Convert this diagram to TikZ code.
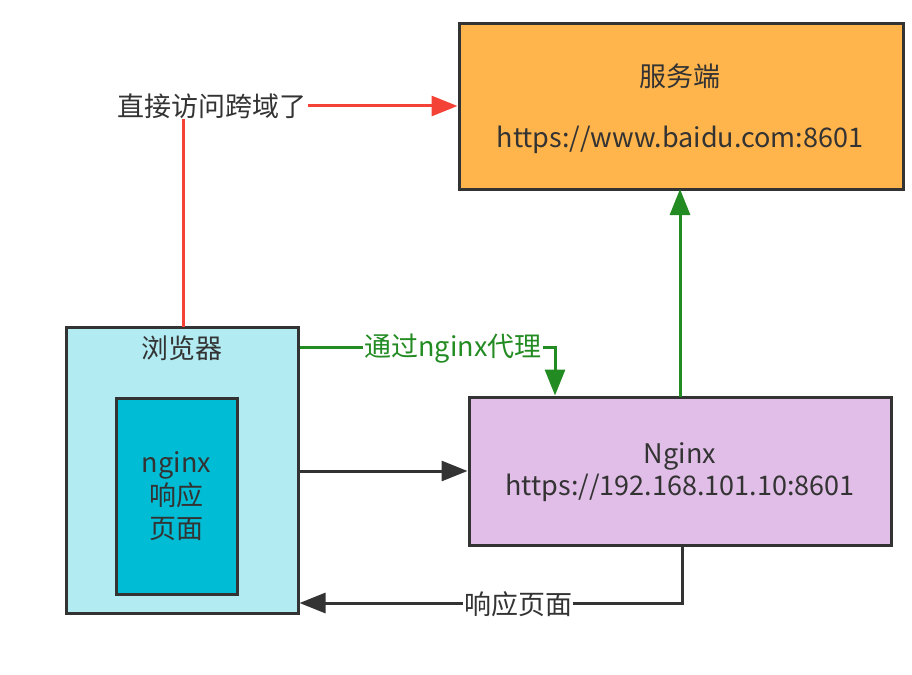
\documentclass[tikz,border=0pt]{standalone}
\usepackage{fontspec}
\setmainfont{Noto Sans CJK SC}
\usetikzlibrary{arrows.meta}
\definecolor{srvfill}{HTML}{FFB54C}
\definecolor{brfill}{HTML}{B2EBF2}
\definecolor{pgfill}{HTML}{00BCD4}
\definecolor{ngfill}{HTML}{E1BEE7}
\definecolor{edge}{HTML}{333333}
\definecolor{redl}{HTML}{F44336}
\definecolor{greenl}{HTML}{228B22}
\tikzset{
  box/.style={draw=edge, line width=3pt, rectangle, inner sep=0pt},
  lbl/.style={text=edge, font=\fontsize{27}{31}\selectfont, inner sep=1pt},
  conn/.style={line width=3pt},
}
\begin{document}
\begin{tikzpicture}[x=1pt,y=-1pt]
\useasboundingbox (0,0) rectangle (912,674);
% boxes
\node[box, fill=srvfill, minimum width=444pt, minimum height=165pt] (srv) at (681,106.5) {};
\node[lbl] (srvt) at (680,76) {服务端};
\node[lbl] (srvu) at (680,140) {https://www.baidu.com:8601};
\node[box, fill=brfill, minimum width=232pt, minimum height=286pt] (br) at (182,470) {};
\node[lbl] (brt) at (182,348) {浏览器};
\node[box, fill=pgfill, minimum width=121pt, minimum height=196pt, lbl, align=center, font=\fontsize{27}{33}\selectfont] (pg) at (176.5,496) {nginx\\响应\\页面};
\node[box, fill=ngfill, minimum width=422pt, minimum height=148pt] (ng) at (680,471) {};
\node[lbl, align=center, font=\fontsize{27}{32}\selectfont] (ngt) at (680,472) {Nginx\\https://192.168.101.10:8601};
% connectors
\coordinate (rc) at (183,106);
\draw[conn, draw=redl, -{Triangle[length=26pt,width=20pt,fill=redl]}] (183,327) -- (rc) -- (srv.west |- rc);
\node[lbl, fill=white] (rl) at (212,106) {直接访问跨域了};
\coordinate (gc) at (555,347);
\draw[conn, draw=greenl, -{Triangle[length=26pt,width=20pt,fill=greenl]}] (br.east |- gc) -- (gc) -- (gc |- ng.north);
\node[lbl, fill=white, text=greenl] (gl) at (453,349) {通过nginx代理};
\draw[conn, draw=greenl, -{Triangle[length=26pt,width=20pt,fill=greenl]}] (680,397) -- (680,189);
\draw[conn, draw=edge, -{Triangle[length=26pt,width=20pt,fill=edge]}] (br.east |- 0,471) -- (ng.west |- 0,471);
\coordinate (bc) at (682,603);
\draw[conn, draw=edge, -{Triangle[length=26pt,width=20pt,fill=edge]}] (bc |- ng.south) -- (bc) -- (br.east |- bc);
\node[lbl, fill=white] (bl) at (518,604) {响应页面};
\end{tikzpicture}
\end{document}
